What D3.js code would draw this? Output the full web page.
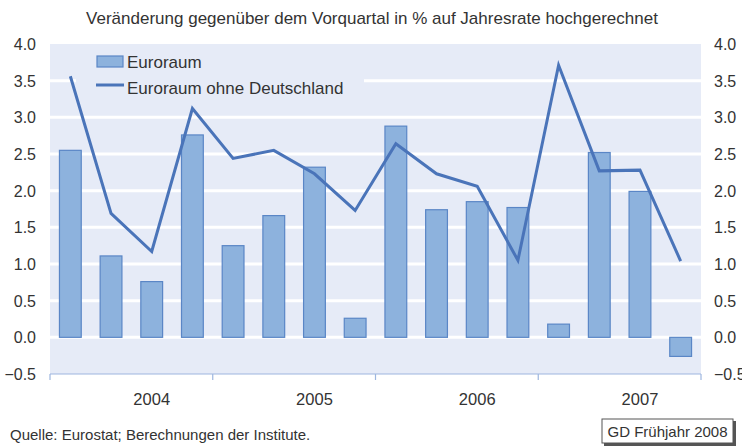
<!DOCTYPE html>
<html><head><meta charset="utf-8">
<script src="https://cdn.jsdelivr.net/npm/d3@7"></script>
<style>
html,body{margin:0;padding:0;background:#fff;}
svg{display:block;font-family:"Liberation Sans",Arial,sans-serif;}
</style></head>
<body>
<script>
const title = "Veränderung gegenüber dem Vorquartal in % auf Jahresrate hochgerechnet";
const quarters = ["2004Q1","2004Q2","2004Q3","2004Q4","2005Q1","2005Q2","2005Q3","2005Q4","2006Q1","2006Q2","2006Q3","2006Q4","2007Q1","2007Q2","2007Q3","2007Q4"];
const years = ["2004","2005","2006","2007"];
const euroraum = [2.55,1.11,0.76,2.76,1.25,1.66,2.32,0.26,2.88,1.74,1.85,1.77,0.18,2.52,1.99,-0.26];
const ohneDeutschland = [3.56,1.69,1.17,3.12,2.44,2.55,2.23,1.73,2.64,2.23,2.06,1.05,3.71,2.27,2.28,1.04];
const yTicks = [-0.5,0,0.5,1,1.5,2,2.5,3,3.5,4];
const seriesNames = ["Euroraum","Euroraum ohne Deutschland"];
const source = "Quelle: Eurostat; Berechnungen der Institute.";
const stamp = "GD Frühjahr 2008";

const W=742,H=448;
const L=50,R=701,T=44,B=374;
const svg=d3.select("body").append("svg").attr("width",W).attr("height",H);

const x=d3.scaleBand().domain(quarters).range([L,R]).paddingInner(0.44).paddingOuter(0.22);
const xb=d3.scaleBand().domain(quarters).range([L,R]);
const y=d3.scaleLinear().domain([-0.5,4]).range([B,T]);

svg.append("rect").attr("x",L).attr("y",T).attr("width",R-L).attr("height",B-T).attr("fill","#e6ebf7");

svg.append("g").selectAll("line").data(yTicks.filter(d=>d>-0.5&&d<4)).join("line")
  .attr("x1",L).attr("x2",R).attr("y1",d=>y(d)).attr("y2",d=>y(d))
  .attr("stroke","#fff").attr("stroke-width",3);

// legend box background (covers gridlines)
svg.append("rect").attr("x",76).attr("y",46).attr("width",288).attr("height",56).attr("fill","#e6ebf7");

// bars
svg.append("g").selectAll("rect").data(euroraum).join("rect")
  .attr("x",(d,i)=>x(quarters[i])+0.5)
  .attr("width",x.bandwidth()-1)
  .attr("y",d=>y(Math.max(0,d)))
  .attr("height",d=>Math.abs(y(d)-y(0)))
  .attr("fill","#8db2dd").attr("stroke","#5a86c6").attr("stroke-width",1.2);

// line
const line=d3.line().x((d,i)=>xb(quarters[i])+xb.bandwidth()/2).y(d=>y(d));
svg.append("path").datum(ohneDeutschland).attr("d",line)
  .attr("fill","none").attr("stroke","#4a74b9").attr("stroke-width",3).attr("stroke-linejoin","miter");

// x axis
const ax=svg.append("g");
ax.append("line").attr("x1",L).attr("x2",R).attr("y1",B).attr("y2",B).attr("stroke","#9db6df").attr("stroke-width",1.2);
const yearBounds=[0,4,8,12,16].map(i=>i<16?xb(quarters[i]):R);
ax.selectAll(".tk").data(yearBounds).join("line").attr("class","tk")
  .attr("x1",d=>d).attr("x2",d=>d).attr("y1",B).attr("y2",B+6).attr("stroke","#9db6df").attr("stroke-width",1.2);
ax.selectAll("text").data(years).join("text")
  .attr("x",(d,i)=>xb(quarters[i*4+2])+xb.bandwidth()/2)
  .attr("y",405).attr("text-anchor","middle").attr("font-size",16.5).attr("fill","#333").text(d=>d);

// y labels
const fmt=d3.format(".1f");
svg.append("g").selectAll("text").data(yTicks).join("text")
  .attr("x",36).attr("y",d=>y(d)+6).attr("text-anchor","end").attr("font-size",16).attr("fill","#333").text(d=>fmt(d));
svg.append("g").selectAll("text").data(yTicks).join("text")
  .attr("x",714).attr("y",d=>y(d)+6).attr("text-anchor","start").attr("font-size",16).attr("fill","#333").text(d=>fmt(d));

// title
svg.append("text").attr("x",372).attr("y",24).attr("text-anchor","middle").attr("font-size",17).attr("fill","#333").text(title);

// legend
svg.append("rect").attr("x",97).attr("y",56).attr("width",26).attr("height",11).attr("fill","#8db2dd").attr("stroke","#5a86c6").attr("stroke-width",1.2);
svg.append("line").attr("x1",96).attr("x2",124).attr("y1",85).attr("y2",85).attr("stroke","#4a74b9").attr("stroke-width",3);
svg.append("text").attr("x",127).attr("y",68).attr("font-size",17).attr("fill","#333").text(seriesNames[0]);
svg.append("text").attr("x",127).attr("y",94).attr("font-size",17).attr("fill","#333").text(seriesNames[1]);

// source
svg.append("text").attr("x",10).attr("y",440).attr("font-size",15).attr("fill","#333").text(source);

// stamp
svg.append("rect").attr("x",604).attr("y",421).attr("width",132).attr("height",25).attr("fill","#555");
svg.append("rect").attr("x",602).attr("y",419).attr("width",131).attr("height",24).attr("fill","#fff").attr("stroke","#555").attr("stroke-width",1);
svg.append("text").attr("x",667.5).attr("y",437).attr("text-anchor","middle").attr("font-size",15).attr("fill","#333").text(stamp);
</script>
</body></html>
